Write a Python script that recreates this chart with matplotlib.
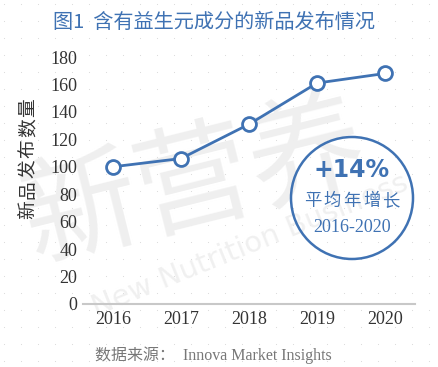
import matplotlib
matplotlib.use("Agg")
import matplotlib.pyplot as plt
from matplotlib.patches import Ellipse
import numpy as np

years = ["2016", "2017", "2018", "2019", "2020"]
launches = [100, 106, 131, 161, 168]
yticks = [0, 20, 40, 60, 80, 100, 120, 140, 160, 180]

title = "图1  含有益生元成分的新品发布情况"
ylabel = "新品发布数量"
source = "数据来源：  Innova Market Insights"
badge_pct = "+14%"
badge_txt = "平均年增长"
badge_years = "2016-2020"

blue = "#3f72b3"
serif = ["Liberation Serif", "Noto Sans CJK SC"]
cjk = ["Noto Sans CJK SC", "DejaVu Sans"]

W, H = 438, 367
fig = plt.figure(figsize=(W / 100, H / 100), dpi=100)
fig.patch.set_facecolor("white")

# faint dotted background texture
bg = fig.add_axes([0, 0, 1, 1], zorder=-10)
bg.set_xlim(0, W); bg.set_ylim(H, 0); bg.axis("off")
gx, gy = np.meshgrid(np.arange(4, W, 17), np.arange(4, H, 17))
bg.scatter(gx.ravel(), gy.ravel(), s=0.6, color="#d8d8d8", linewidths=0)
# watermark
bg.text(195, 185, "新营养", fontsize=84, color="#efefef", family=cjk,
        ha="center", va="center", rotation=14)
bg.text(250, 245, "New Nutrition Business", fontsize=21, color="#f0f0f0",
        family=["DejaVu Sans"], ha="center", va="center", rotation=22)

ax = fig.add_axes([83 / W, 1 - 304 / H, 332 / W, (304 - 57) / H])
ax.patch.set_alpha(0)
x = np.arange(len(years))
ax.plot(x, launches, color=blue, lw=2, marker="o", ms=10,
        mfc="white", mec=blue, mew=2, zorder=3)
ax.set_xlim(-0.44, 4.44)
ax.set_ylim(0, 180)
ax.set_yticks(yticks)
ax.set_yticklabels([str(v) for v in yticks], family=serif, fontsize=13, color="#333333")
ax.set_xticks(x)
ax.set_xticklabels(years, family=serif, fontsize=13, color="#333333")
ax.tick_params(length=0, pad=4)
ax.tick_params(axis="x", pad=5)
for s in ["top", "right", "left"]:
    ax.spines[s].set_visible(False)
ax.spines["bottom"].set_color("#c8c8c8")
ax.spines["bottom"].set_linewidth(1.5)

# y label with slight letter spacing
for i, ch in enumerate(ylabel):
    fig.text(28 / W, 1 - (210 - i * 20.5) / H, ch, rotation=90, ha="center", va="center",
             family=cjk, fontsize=13.5, color="#333333")

fig.text(214 / W, 1 - 22 / H, title, ha="center", va="center",
         family=cjk, fontsize=14.5, color=blue)

fig.text(95 / W, 1 - 355 / H, source, ha="left", va="center",
         family=["Liberation Serif", "Noto Sans CJK SC"], fontsize=11.5, color="#777777")

# growth badge
cx, cy, r = 352, 198, 61
fig.patches.append(Ellipse((cx / W, 1 - cy / H), 2 * r / W, 2 * r / H,
                           transform=fig.transFigure, fill=False,
                           edgecolor=blue, lw=1.8))
fig.text(cx / W, 1 - 170 / H, badge_pct, ha="center", va="center",
         family=["DejaVu Sans"], fontweight="bold", fontsize=17, color=blue)
for i, ch in enumerate(badge_txt):
    fig.text((cx + (i - 2) * 19.5) / W, 1 - 201 / H, ch, ha="center", va="center",
             family=cjk, fontsize=12.5, color=blue)
fig.text(cx / W, 1 - 228 / H, badge_years, ha="center", va="center",
         family=serif, fontsize=13, color=blue)

fig.savefig("out.png", dpi=100, facecolor="white")
